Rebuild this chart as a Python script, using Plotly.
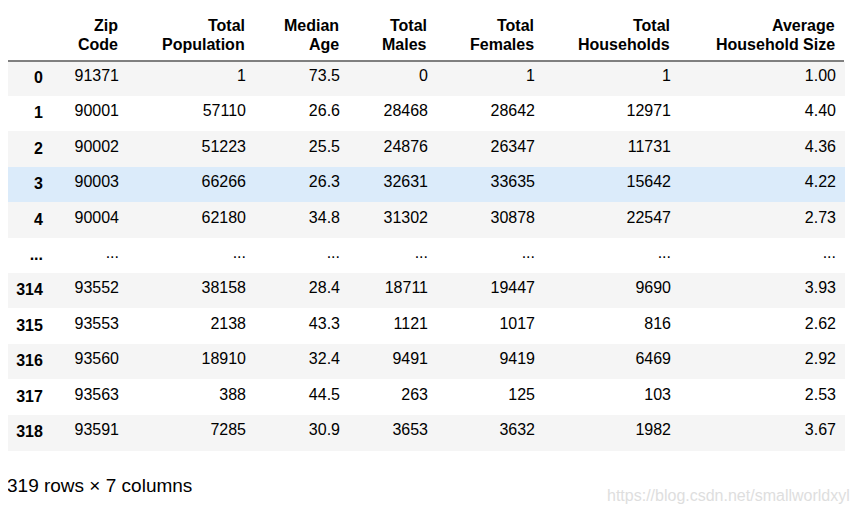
import plotly.graph_objects as go

# ---- data ----
row_index = ["0", "1", "2", "3", "4", "...", "314", "315", "316", "317", "318"]
zip_code = ["91371", "90001", "90002", "90003", "90004", "...", "93552", "93553", "93560", "93563", "93591"]
total_population = [1, 57110, 51223, 66266, 62180, None, 38158, 2138, 18910, 388, 7285]
median_age = [73.5, 26.6, 25.5, 26.3, 34.8, None, 28.4, 43.3, 32.4, 44.5, 30.9]
total_males = [0, 28468, 24876, 32631, 31302, None, 18711, 1121, 9491, 263, 3653]
total_females = [1, 28642, 26347, 33635, 30878, None, 19447, 1017, 9419, 125, 3632]
total_households = [1, 12971, 11731, 15642, 22547, None, 9690, 816, 6469, 103, 1982]
avg_household_size = [1.00, 4.40, 4.36, 4.22, 2.73, None, 3.93, 2.62, 2.92, 2.53, 3.67]
header_line1 = ["", "Zip", "Total", "Median", "Total", "Total", "Total", "Average"]
header_line2 = ["", "Code", "Population", "Age", "Males", "Females", "Households", "Household Size"]
footer_text = "319 rows × 7 columns"
watermark_text = "https://blog.csdn.net/smallworldxyl"


def fmt(vals, spec):
    return ["..." if v is None else format(v, spec) for v in vals]


columns = [
    ["<b>%s</b>" % s for s in row_index],
    zip_code,
    fmt(total_population, "d"),
    fmt(median_age, ".1f"),
    fmt(total_males, "d"),
    fmt(total_females, "d"),
    fmt(total_households, "d"),
    fmt(avg_household_size, ".2f"),
]

GREY = "#f5f5f5"
WHITE = "#ffffff"
BLUE = "#dbebfa"
row_fill = [GREY, WHITE, GREY, BLUE, GREY, WHITE, GREY, WHITE, GREY, WHITE, GREY]

FONT = "Liberation Sans, Arial, sans-serif"
# the page body adds an 8px margin, so the figure is 8px smaller each way
W, H = 851, 504
x0, x1 = 0, 836
top = 2
header_h = 51
cell_h = 35.4
col_widths = [43, 76, 127, 94, 88, 107, 136, 165]

fig = go.Figure(go.Table(
    domain=dict(x=[x0 / W, x1 / W], y=[0, 1 - top / H]),
    columnwidth=col_widths,
    header=dict(
        values=[""] * len(columns),
        align="right",
        height=header_h,
        fill_color=WHITE,
        line=dict(color=WHITE, width=1),
        font=dict(family=FONT, size=16, color="#000000"),
    ),
    cells=dict(
        values=columns,
        align="right",
        height=cell_h,
        fill_color=[row_fill] * len(columns),
        line=dict(color=[row_fill] * len(columns), width=1),
        font=dict(family=FONT, size=16, color="#000000"),
    ),
))

# column header labels (right-aligned, two lines)
scale = (x1 - x0) / sum(col_widths)
edge = x0
for l1, l2, w in zip(header_line1, header_line2, col_widths):
    edge += w * scale
    for txt, yy in ((l1, 18.0), (l2, 36.5)):
        if txt:
            fig.add_annotation(text="<b>%s</b>" % txt, xref="paper", yref="paper",
                               x=(edge - 7) / W, y=1 - yy / H,
                               xanchor="right", yanchor="middle", align="right",
                               showarrow=False,
                               font=dict(family=FONT, size=16, color="#000000"))

# header underline
fig.add_shape(type="line", xref="paper", yref="paper",
              x0=x0 / W, x1=x1 / W, y0=1 - (top + header_h) / H, y1=1 - (top + header_h) / H,
              line=dict(color="#000000", width=1))

fig.add_annotation(text=footer_text, xref="paper", yref="paper", x=-3 / W, y=1 - 477 / H,
                   xanchor="left", yanchor="middle", showarrow=False,
                   font=dict(family=FONT, size=19, color="#000000"))
fig.add_annotation(text=watermark_text, xref="paper", yref="paper", x=844 / W, y=1 - 487 / H,
                   xanchor="right", yanchor="middle", showarrow=False,
                   font=dict(family=FONT, size=16, color="#dedede"))

fig.update_layout(width=W, height=H, margin=dict(l=0, r=0, t=0, b=0),
                  paper_bgcolor=WHITE, plot_bgcolor=WHITE)

fig.write_html("out.html")
